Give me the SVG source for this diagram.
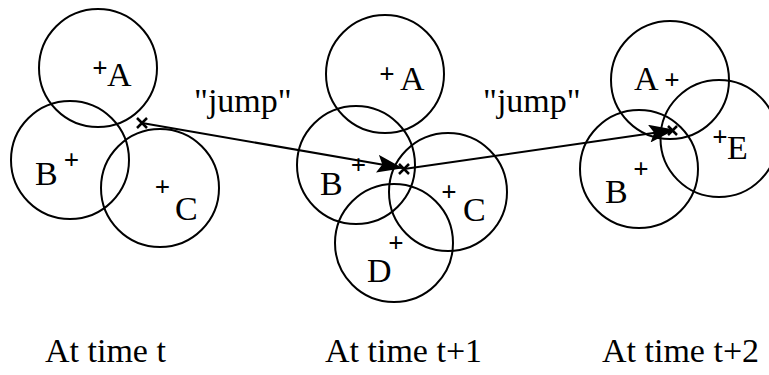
<svg xmlns="http://www.w3.org/2000/svg" width="769" height="375" viewBox="0 0 769 375">
<defs>
<style>
.c{fill:none;stroke:#000;stroke-width:2}
.t{font-family:'Liberation Serif','Times New Roman',serif;font-size:34px;fill:#000}
.p{font-family:'Liberation Serif','Times New Roman',serif;font-size:27px;font-weight:bold;fill:#000;text-anchor:middle}
.x{fill:none;stroke:#000;stroke-width:2.5}
.a{fill:none;stroke:#000;stroke-width:2}
</style>
<marker id="ah" markerUnits="userSpaceOnUse" markerWidth="26" markerHeight="18" refX="25" refY="9" orient="auto" viewBox="0 0 26 18">
<path d="M0,0 L26,9 L0,18 L5,9 z" fill="#000"/>
</marker>
</defs>
<rect width="769" height="375" fill="#fff"/>
<g id="t0">
<g id="t0A"><circle class="c" cx="98" cy="68" r="59"/><text class="p" x="100" y="77">+</text><text class="t" x="107" y="86">A</text></g>
<g id="t0B"><circle class="c" cx="70" cy="160" r="59"/><text class="p" x="71.5" y="169">+</text><text class="t" x="35" y="185">B</text></g>
<g id="t0C"><circle class="c" cx="160" cy="188" r="59"/><text class="p" x="162.5" y="196">+</text><text class="t" x="175" y="220">C</text></g>
<path class="x" d="M137,118 L147,128 M147,118 L137,128"/>
</g>
<g id="t1">
<g id="t1A"><circle class="c" cx="385" cy="74" r="59"/><text class="p" x="387" y="83">+</text><text class="t" x="400" y="90">A</text></g>
<g id="t1B"><circle class="c" cx="356" cy="165" r="59"/><text class="p" x="358.5" y="174">+</text><text class="t" x="320" y="195">B</text></g>
<g id="t1C"><circle class="c" cx="448" cy="192" r="59"/><text class="p" x="449" y="200.5">+</text><text class="t" x="463" y="221">C</text></g>
<g id="t1D"><circle class="c" cx="394" cy="243" r="59"/><text class="p" x="396" y="252">+</text><text class="t" x="367" y="282">D</text></g>
<path class="x" d="M399,164 L409,174 M409,164 L399,174"/>
</g>
<g id="t2">
<g id="t2A"><circle class="c" cx="670" cy="80" r="59"/><text class="p" x="672" y="89">+</text><text class="t" x="634" y="90">A</text></g>
<g id="t2B"><circle class="c" cx="639" cy="169" r="59"/><text class="p" x="641" y="177.5">+</text><text class="t" x="605" y="203">B</text></g>
<g id="t2E"><circle class="c" cx="719" cy="138.5" r="58.5"/><text class="p" x="720" y="146">+</text><text class="t" x="727" y="159">E</text></g>
<path class="x" d="M668,126 L677,135 M677,126 L668,135"/>
</g>
<g id="connectors">
<line class="a" x1="142" y1="123" x2="402" y2="168" marker-end="url(#ah)"/>
<line class="a" x1="404" y1="169" x2="674" y2="130" marker-end="url(#ah)"/>
</g>
<g id="labels">
<text class="t" x="194" y="112">"jump"</text>
<text class="t" x="483" y="112">"jump"</text>
<text class="t" x="45" y="362">At time t</text>
<text class="t" x="325" y="362">At time t+1</text>
<text class="t" x="602" y="362">At time t+2</text>
</g>
</svg>
